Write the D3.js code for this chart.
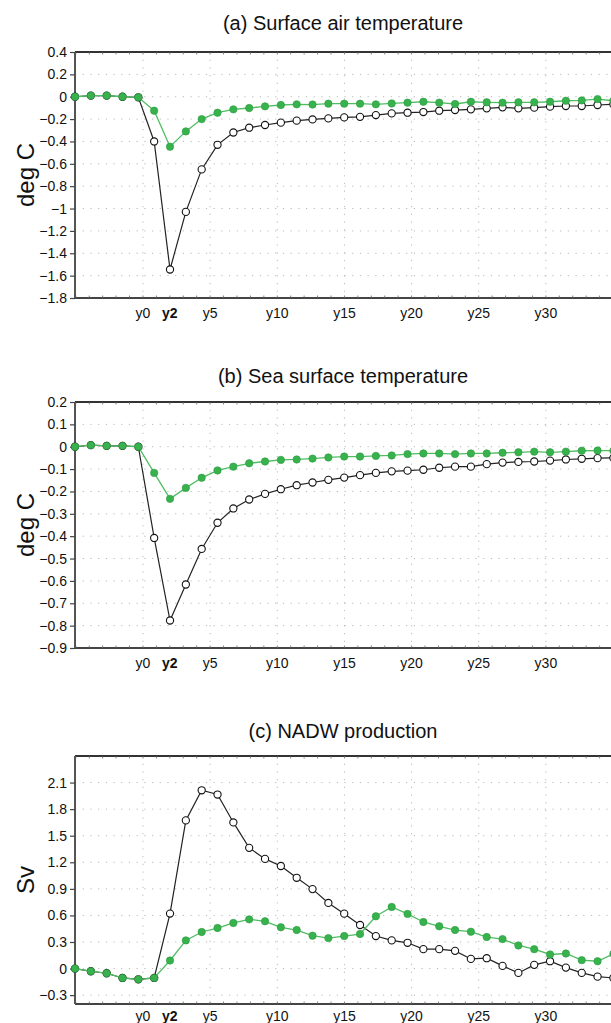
<!DOCTYPE html>
<html>
<head>
<meta charset="utf-8">
<script src="https://cdn.jsdelivr.net/npm/d3@7"></script>
<style>
  body { margin: 0; background: #fff; }
  text { font-family: "Liberation Sans", Arial, Helvetica, sans-serif; }
</style>
</head>
<body>
<div id="container"></div>
<script>
/* CONSTANTS AND GLOBALS */
const width = 611;
const height = 1023;

/* DATA */
// sample times (years), one value every ~1.18 years starting at the left edge
const startYear = -5.06;
const stepYear = 1.179;

const xTickYears = [0, 2, 5, 10, 15, 20, 25, 30];
const xTickLabels = ["y0", "y2", "y5", "y10", "y15", "y20", "y25", "y30"];

// (a) surface air temperature, deg C
const satOpen = [0, 0.01, 0.01, 0, -0.005, -0.40, -1.545, -1.03, -0.65, -0.43, -0.32, -0.277, -0.253, -0.232, -0.214, -0.203,
  -0.194, -0.185, -0.18, -0.164, -0.149, -0.143, -0.137, -0.125, -0.119, -0.113, -0.104, -0.095, -0.104, -0.098,
  -0.089, -0.083, -0.083, -0.074, -0.068];
const satFilled = [0, 0.01, 0.01, 0, -0.005, -0.125, -0.447, -0.31, -0.2, -0.143, -0.113, -0.101, -0.086, -0.074, -0.068, -0.07,
  -0.062, -0.062, -0.062, -0.068, -0.06, -0.053, -0.045, -0.053, -0.065, -0.045, -0.05, -0.053, -0.05, -0.05,
  -0.045, -0.036, -0.033, -0.021, -0.036];

// (b) sea surface temperature, deg C
const sstOpen = [0, 0.007, 0.004, 0.004, 0, -0.408, -0.777, -0.616, -0.457, -0.34, -0.276, -0.236, -0.211, -0.19, -0.172, -0.16,
  -0.148, -0.138, -0.127, -0.117, -0.11, -0.107, -0.103, -0.094, -0.089, -0.089, -0.078, -0.071, -0.068, -0.066,
  -0.062, -0.057, -0.054, -0.051, -0.05];
const sstFilled = [0, 0.007, 0.004, 0.004, 0, -0.117, -0.233, -0.184, -0.139, -0.106, -0.089, -0.074, -0.066, -0.059, -0.057, -0.053,
  -0.048, -0.044, -0.044, -0.041, -0.039, -0.033, -0.03, -0.03, -0.033, -0.03, -0.03, -0.027, -0.025, -0.022,
  -0.025, -0.022, -0.018, -0.017, -0.018];

// (c) NADW production, Sv
const nadwOpen = [0, -0.03, -0.053, -0.106, -0.121, -0.106, 0.621, 1.673, 2.013, 1.965, 1.65, 1.363, 1.238, 1.158, 1.025, 0.897,
  0.741, 0.62, 0.492, 0.367, 0.318, 0.291, 0.219, 0.219, 0.2, 0.109, 0.117, 0.03, -0.049, 0.042,
  0.083, 0.011, -0.049, -0.091, -0.106];
const nadwFilled = [0, -0.03, -0.053, -0.106, -0.121, -0.106, 0.091, 0.318, 0.413, 0.458, 0.515, 0.556, 0.534, 0.466, 0.435, 0.371,
  0.344, 0.367, 0.39, 0.59, 0.696, 0.617, 0.526, 0.477, 0.435, 0.416, 0.356, 0.333, 0.261, 0.219,
  0.159, 0.17, 0.095, 0.083, 0.167];

const satTicks = [0.4, 0.2, 0, -0.2, -0.4, -0.6, -0.8, -1, -1.2, -1.4, -1.6, -1.8];
const sstTicks = [0.2, 0.1, 0, -0.1, -0.2, -0.3, -0.4, -0.5, -0.6, -0.7, -0.8, -0.9];
const nadwTicks = [-0.3, 0, 0.3, 0.6, 0.9, 1.2, 1.5, 1.8, 2.1];

const panels = [
  { title: "(a) Surface air temperature", unit: "deg C", open: satOpen, filled: satFilled,
    domain: [-1.8, 0.4], ticks: satTicks, top: 52, bottom: 298, titleY: 30, labelGap: 20 },
  { title: "(b) Sea surface temperature", unit: "deg C", open: sstOpen, filled: sstFilled,
    domain: [-0.9, 0.2], ticks: sstTicks, top: 402, bottom: 648, titleY: 383, labelGap: 20 },
  { title: "(c) NADW production", unit: "Sv", open: nadwOpen, filled: nadwFilled,
    domain: [-0.4, 2.4], ticks: nadwTicks, top: 756, bottom: 1004, titleY: 738, labelGap: 17 }
];

const left = 75;
const green = "#37b24d";
const fmt = v => (v < 0 ? "\u2212" : "") + String(Math.abs(+v.toFixed(2)));

const svg = d3.select("#container")
  .append("svg")
  .attr("width", width)
  .attr("height", height)
  .style("background-color", "white");

/* SCALES */
const xScale = d3.scaleLinear()
  .domain([startYear, 35.5])
  .range([left, 143 + 35.5 * 13.43]);

panels.forEach(p => {
  const yScale = d3.scaleLinear().domain(p.domain).range([p.bottom, p.top]);
  const pts = arr => arr.map((v, i) => ({ x: startYear + i * stepYear, v }));
  const g = svg.append("g");

  // grid
  g.selectAll(".hgrid")
    .data(p.ticks.filter(t => t > p.domain[0] && t < p.domain[1]))
    .join("line")
    .attr("x1", left).attr("x2", width)
    .attr("y1", d => yScale(d)).attr("y2", d => yScale(d))
    .attr("stroke", "#b8b8b8").attr("stroke-width", 1)
    .attr("stroke-dasharray", "1.2,6.5");
  g.selectAll(".vgrid")
    .data(xTickYears.filter(t => t !== 2))
    .join("line")
    .attr("x1", d => xScale(d)).attr("x2", d => xScale(d))
    .attr("y1", p.top).attr("y2", p.bottom)
    .attr("stroke", "#b8b8b8").attr("stroke-width", 1)
    .attr("stroke-dasharray", "1.2,6.5");

  // frame
  g.append("line").attr("x1", left).attr("x2", width).attr("y1", p.top).attr("y2", p.top)
    .attr("stroke", "#333").attr("stroke-width", 2);
  g.append("line").attr("x1", left).attr("x2", width).attr("y1", p.bottom).attr("y2", p.bottom)
    .attr("stroke", "#444").attr("stroke-width", 2);

  // minor ticks along top and bottom
  const minor = d3.range(-5, 36);
  g.selectAll(".mt")
    .data(minor)
    .join("line")
    .attr("x1", d => xScale(d)).attr("x2", d => xScale(d))
    .attr("y1", p.bottom).attr("y2", p.bottom - 2.5)
    .attr("stroke", "#666").attr("stroke-width", 0.8);
  g.selectAll(".mt2")
    .data(minor)
    .join("line")
    .attr("x1", d => xScale(d)).attr("x2", d => xScale(d))
    .attr("y1", p.top).attr("y2", p.top + 2.5)
    .attr("stroke", "#666").attr("stroke-width", 0.8);

  // y axis
  const yAxis = d3.axisLeft(yScale).tickValues(p.ticks).tickSize(5).tickFormat(fmt);
  const ya = g.append("g").attr("transform", `translate(${left},0)`).call(yAxis);
  ya.select(".domain").attr("stroke", "#555").attr("stroke-width", 2)
    .attr("d", `M0,${p.top}V${p.bottom}`);
  ya.selectAll(".tick line").attr("stroke", "#444").attr("stroke-width", 1.2);
  ya.selectAll(".tick text").attr("font-size", 14).attr("fill", "#111")
    .attr("font-family", "'Liberation Sans', Arial, sans-serif").attr("x", -8);

  // x tick labels
  g.selectAll(".xl")
    .data(xTickYears)
    .join("text")
    .attr("x", d => xScale(d))
    .attr("y", p.bottom + p.labelGap)
    .attr("text-anchor", "middle")
    .attr("font-size", 14)
    .attr("font-weight", d => d === 2 ? "bold" : "normal")
    .attr("fill", "#111")
    .text((d, i) => xTickLabels[i]);

  // titles
  svg.append("text")
    .attr("x", 343).attr("y", p.titleY)
    .attr("text-anchor", "middle")
    .attr("font-size", 20)
    .attr("fill", "#111")
    .text(p.title);
  svg.append("text")
    .attr("transform", `translate(34,${(p.top + p.bottom) / 2}) rotate(-90)`)
    .attr("text-anchor", "middle")
    .attr("font-size", 24)
    .attr("fill", "#111")
    .text(p.unit);

  const line = d3.line().x(d => xScale(d.x)).y(d => yScale(d.v));

  // open series (black)
  g.append("path").datum(pts(p.open))
    .attr("d", line).attr("fill", "none").attr("stroke", "#222").attr("stroke-width", 1.2);
  g.selectAll(".open")
    .data(pts(p.open))
    .join("circle")
    .attr("cx", d => xScale(d.x)).attr("cy", d => yScale(d.v))
    .attr("r", 3.6)
    .attr("fill", "white").attr("stroke", "#111").attr("stroke-width", 1.1);

  // filled series (green)
  g.append("path").datum(pts(p.filled))
    .attr("d", line).attr("fill", "none").attr("stroke", "#4fbd62").attr("stroke-width", 1.3);
  g.selectAll(".filled")
    .data(pts(p.filled))
    .join("circle")
    .attr("cx", d => xScale(d.x)).attr("cy", d => yScale(d.v))
    .attr("r", 3.7)
    .attr("fill", green).attr("stroke", "#2c9a40").attr("stroke-width", 0.6);
});
</script>
</body>
</html>
